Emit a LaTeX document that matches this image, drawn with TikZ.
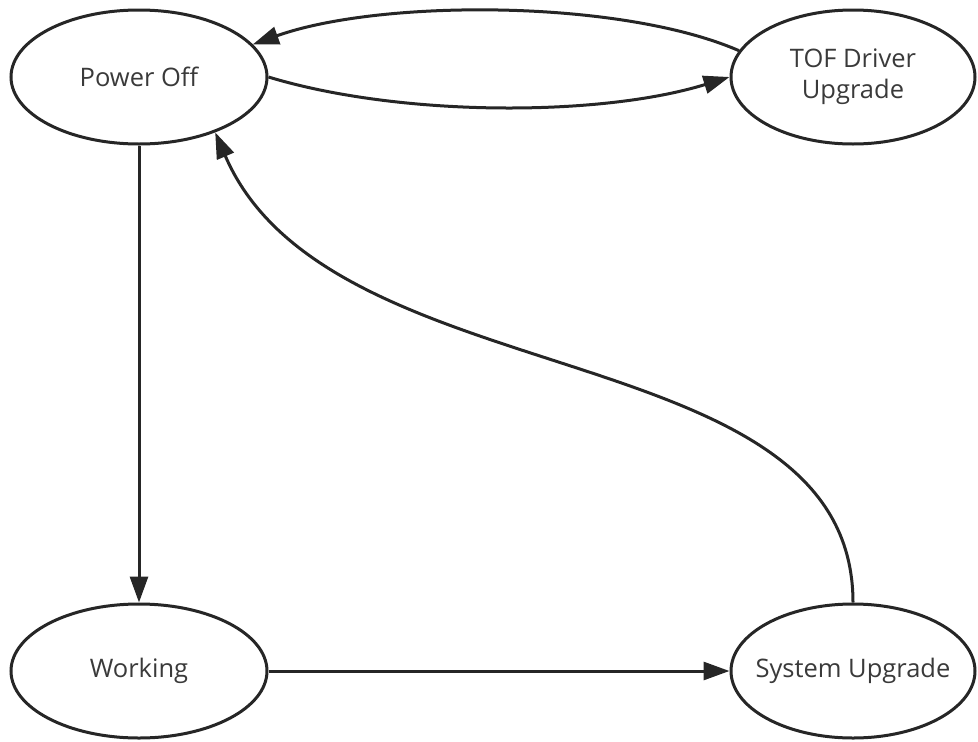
\documentclass[tikz,border=0pt]{standalone}
\usepackage{fontspec}
\setmainfont{Open Sans}
\usetikzlibrary{shapes.geometric,arrows.meta}
\definecolor{ln}{HTML}{262626}
\definecolor{tx}{HTML}{3A3A3A}
\tikzset{
  state/.style={ellipse, draw=ln, line width=3pt, fill=white, inner sep=0pt,
    minimum width=256pt, minimum height=134pt, text=tx, font=\fontsize{25.5}{31}\selectfont, align=center},
  state2/.style={state, minimum width=244pt},
  conn/.style={draw=ln, line width=3pt, -{Triangle[length=26pt,width=18pt]}}
}
\begin{document}
\begin{tikzpicture}[x=1pt,y=-1pt]
\useasboundingbox (0,0) rectangle (978,742);
\node[state] (po) at (139,77) {Power Off};
\node[state2] (tof) at (853,77) {TOF Driver\\Upgrade};
\node[state] (wk) at (139,671) {Working};
\node[state2] (su) at (853,671) {\makebox[0pt]{System Upgrade}};
\draw[conn] (tof.167) .. controls (620,-1) and (380,-1) .. (po.16);
\draw[conn] (po.east) .. controls (400,117) and (600,117) .. (tof.west);
\draw[conn] (po.south) -- (wk.north);
\draw[conn] (wk.east) -- (su.west);
\draw[conn] (su.north) .. controls (853,330) and (330,400) .. (po.-36);
\end{tikzpicture}
\end{document}
